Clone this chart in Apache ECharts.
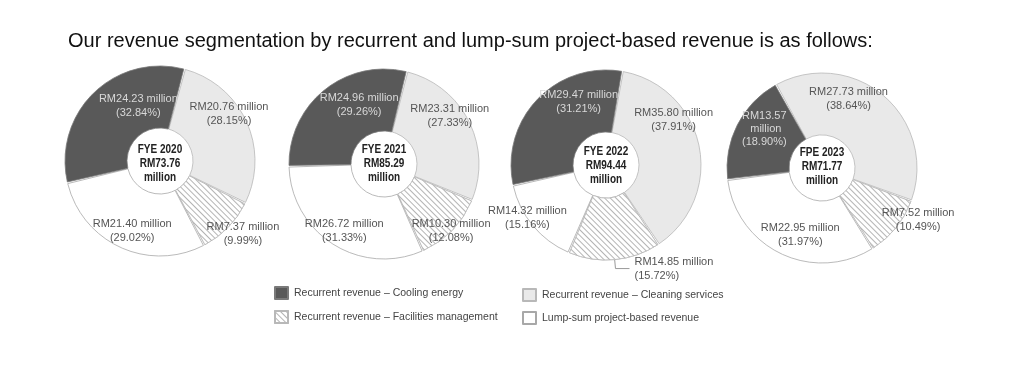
<!DOCTYPE html>
<html>
<head>
<meta charset="utf-8">
<script src="https://cdn.jsdelivr.net/npm/echarts@6/dist/echarts.min.js"></script>
<style>
html,body{margin:0;padding:0;background:#fff;}
#chart{width:1022px;height:374px;}
</style>
</head>
<body>
<div id="chart"></div>
<script>
// ---- data ----
const titleText = 'Our revenue segmentation by recurrent and lump-sum project-based revenue is as follows:';
const categories = [
  'Recurrent revenue \u2013 Cooling energy',
  'Recurrent revenue \u2013 Cleaning services',
  'Recurrent revenue \u2013 Facilities management',
  'Lump-sum project-based revenue'
];
const periods = ['FYE 2020', 'FYE 2021', 'FYE 2022', 'FPE 2023'];
const totals = [73.76, 85.29, 94.44, 71.77];
const cooling = [24.23, 24.96, 29.47, 13.57];
const coolingPct = [32.84, 29.26, 31.21, 18.90];
const cleaning = [20.76, 23.31, 35.80, 27.73];
const cleaningPct = [28.15, 27.33, 37.91, 38.64];
const facilities = [7.37, 10.30, 14.85, 7.52];
const facilitiesPct = [9.99, 12.08, 15.72, 10.49];
const lumpSum = [21.40, 26.72, 14.32, 22.95];
const lumpSumPct = [29.02, 31.33, 15.16, 31.97];

// ---- layout / style ----
const centers = [[160, 161], [384, 164], [606, 165], [822, 168]];
const centerTextY = [164, 164, 166, 167];
const startAngles = [75, 76, 80, 119];
// label nudges in slice order [cleaning, facilities, lumpSum, cooling]
const labelNudge = [
  [[8, -19], [35, 26], [0, 9], [25, -7]],
  [[6, -18], [19, 20], [-4, 10], [17, -7]],
  [[2, -31], [0, 0], [-27, 10], [21, -17]],
  [[-17, -18], [44, 10], [7, 6], [2, -9]]
];
const FONT = "'Liberation Sans', Arial, Helvetica, sans-serif";
const hatch = {
  symbol: 'rect', symbolSize: 1, color: '#b4b4b4', backgroundColor: '#ffffff',
  dashArrayX: [1, 0], dashArrayY: [1, 2.8], rotation: Math.PI / 4
};
const styles = {
  cooling: { color: '#595959', borderColor: '#7a7a7a' },
  cleaning: { color: '#e9e9e9', borderColor: '#b8b8b8' },
  facilities: { color: '#ffffff', borderColor: '#b8b8b8', decal: hatch },
  lumpSum: { color: '#ffffff', borderColor: '#a8a8a8' }
};
function fmt(v, p) { return 'RM' + v.toFixed(2) + ' million\n(' + p.toFixed(2) + '%)'; }

const series = periods.map(function (per, i) {
  const data = [
    { name: categories[1], value: cleaning[i], lbl: fmt(cleaning[i], cleaningPct[i]), itemStyle: styles.cleaning },
    { name: categories[2], value: facilities[i], lbl: fmt(facilities[i], facilitiesPct[i]), itemStyle: styles.facilities },
    { name: categories[3], value: lumpSum[i], lbl: fmt(lumpSum[i], lumpSumPct[i]), itemStyle: styles.lumpSum },
    { name: categories[0], value: cooling[i], lbl: fmt(cooling[i], coolingPct[i]), itemStyle: styles.cooling,
      label: { color: '#d8d8d8' } }
  ];
  if (i === 2) {
    data[1].label = { position: 'outside', align: 'left' };
    data[1].labelLine = { show: true, length: 9, length2: 14, lineStyle: { color: '#999', width: 1 } };
  }
  if (i === 3) {
    data[3].label = { color: '#d8d8d8', width: 46, overflow: 'break', lineHeight: 13 };
  }
  return {
    type: 'pie',
    center: centers[i],
    radius: [33, 95],
    startAngle: startAngles[i],
    padAngle: 1,
    animation: false,
    silent: true,
    itemStyle: { borderWidth: 0.8 },
    label: {
      show: true, position: 'inside', color: '#555', fontFamily: FONT, fontSize: 11, lineHeight: 14,
      formatter: function (p) { return p.data.lbl; }
    },
    labelLine: { show: false },
    labelLayout: function (p) {
      const n = labelNudge[i][p.dataIndex];
      return { dx: n[0], dy: n[1] };
    },
    data: data
  };
});

const graphics = periods.map(function (per, i) {
  return {
    type: 'text', x: centers[i][0], y: centerTextY[i], scaleX: 0.8, silent: true,
    style: {
      text: per + '\nRM' + totals[i].toFixed(2) + '\nmillion',
      align: 'center', verticalAlign: 'middle',
      font: "bold 12.5px 'Liberation Sans', Arial, sans-serif",
      lineHeight: 14, fill: '#222'
    }
  };
});

const legendBase = {
  orient: 'vertical', itemWidth: 13, itemHeight: 12, itemGap: 10, selectedMode: false,
  icon: 'rect',
  textStyle: { fontFamily: FONT, fontSize: 10.5, color: '#444', padding: [0, 0, 0, 1] }
};

const chart = echarts.init(document.getElementById('chart'), null, { renderer: 'canvas' });
chart.setOption({
  backgroundColor: '#ffffff',
  animation: false,
  title: {
    text: titleText, left: 63, top: 26,
    textStyle: { fontFamily: FONT, fontSize: 20, fontWeight: 'normal', color: '#111' }
  },
  legend: [
    Object.assign({}, legendBase, { left: 269, top: 281, data: [categories[0], categories[2]] }),
    Object.assign({}, legendBase, { left: 517, top: 283, itemGap: 9, data: [categories[1], categories[3]] })
  ],
  graphic: graphics,
  series: series
});
</script>
</body>
</html>
